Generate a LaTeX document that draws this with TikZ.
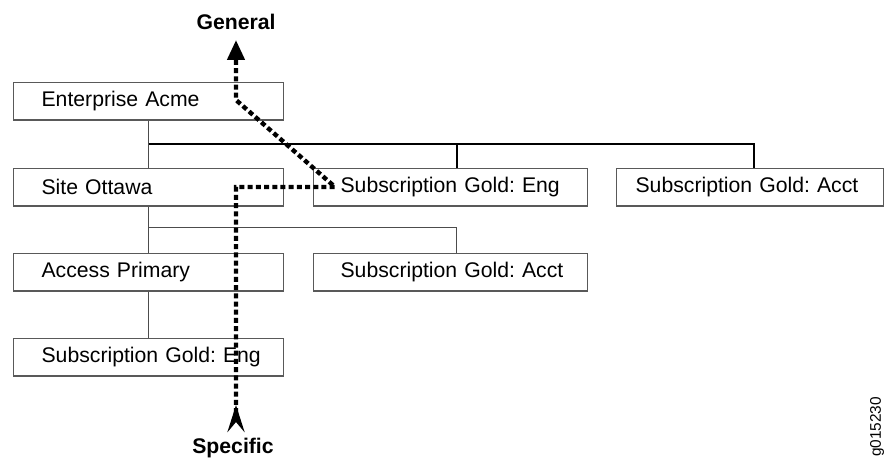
\documentclass[tikz,border=0pt]{standalone}
\usepackage{fontspec}
\setmainfont{Liberation Sans}
\usetikzlibrary{arrows.meta}
\frenchspacing

\begin{document}
\begin{tikzpicture}[x=0.5pt, y=-0.5pt, font=\fontsize{10.6}{12}\selectfont,
  box/.style={draw=black!65, line width=0.6pt, anchor=north west,
    minimum height=18.75pt, inner xsep=0pt, text width=135pt, align=left,
    execute at begin node=\hspace*{#1}},
  box/.default=14pt,
  rbox/.style={box=#1, text width=137pt},
  rbox/.default=13.5pt,
  thin/.style={draw=black!70, line width=0.5pt},
  bus/.style={draw=black, line width=1pt},
  dots/.style={line width=2.2pt, dash pattern=on 2.5pt off 1.6pt},
  tag/.style={font=\fontsize{10.6}{12}\selectfont\bfseries}]
\useasboundingbox (0,0) rectangle (884,464);
% left column
\node[box] (acme) at (13,82) {Enterprise Acme};
\node[box] (ottawa) at (13,168) {Site Ottawa};
\node[box] (access) at (13,253) {Access Primary};
\node[box] (subeng) at (13,338) {Subscription Gold: Eng};
% right boxes
\node[rbox] (goldeng) at (313,168) {Subscription Gold: Eng};
\node[rbox] (goldacct) at (313,253) {Subscription Gold: Acct};
\node[rbox=9.5pt, text width=133.5pt] (acmeacct) at (616,168) {Subscription Gold: Acct};
% tree lines
\draw[thin] (acme.south) -- (ottawa.north);
\draw[bus] (acme.south |- 0,144) -| ([xshift=1.75pt]acmeacct.north);
\draw[bus] ([xshift=3pt]goldeng.north) -- ([xshift=3pt]goldeng.north |- 0,144);
\draw[thin] (ottawa.south) -- (access.north);
\draw[thin] (ottawa.south |- 0,228) -| ([xshift=3pt]goldacct.north);
\draw[thin] (access.south) -- (subeng.north);
% general / specific path
\coordinate (top) at (236,40);
\coordinate (bend) at (236,100);
\coordinate (turn) at (335,187);
\coordinate (drop) at (236,187);
\coordinate (bottom) at (236,432);
\draw[dots, {Stealth[reversed,length=13.5pt,width=8.5pt,inset=5pt]}-{Triangle[length=10pt,width=8.5pt]}]
  (bottom) -- (drop) -- (turn) -- (bend) -- (top);
\node[tag] (general) at (236,22) {General};
\node[tag] (specific) at (233,448) {Specific};
\node[rotate=90, font=\fontsize{7.7}{9}\selectfont] (figid) at (877,427) {g015230};
\end{tikzpicture}
\end{document}
